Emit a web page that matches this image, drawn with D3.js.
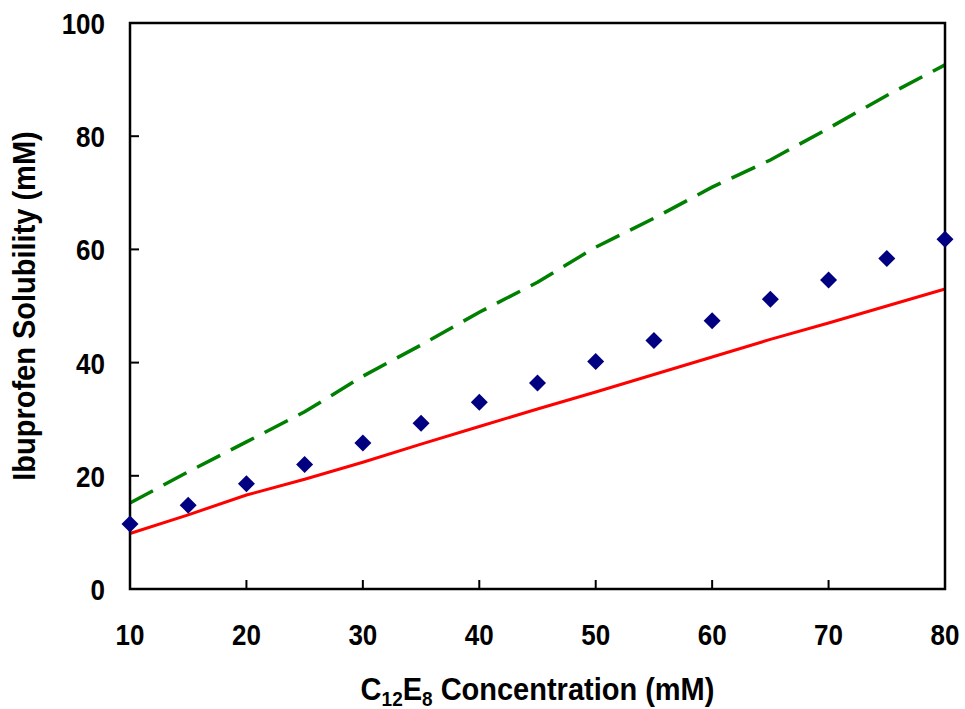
<!DOCTYPE html>
<html>
<head>
<meta charset="utf-8">
<script src="https://cdn.jsdelivr.net/npm/d3@7"></script>
<style>
  body { margin: 0; background: #fff; }
  svg text { font-family: "Liberation Sans", Arial, sans-serif; font-weight: bold; fill: #000; }
</style>
</head>
<body>
<svg id="chart" width="965" height="709"></svg>
<script>
// concentration of C12E8 (mM)
const conc = [10, 15, 20, 25, 30, 35, 40, 45, 50, 55, 60, 65, 70, 75, 80];
// measured ibuprofen solubility (diamonds)
const measured = [11.5, 14.8, 18.6, 22.0, 25.8, 29.3, 33.0, 36.4, 40.2, 43.9, 47.4, 51.2, 54.6, 58.4, 61.8];
// model lines
const modelRed = [9.8, 13.1, 16.6, 19.4, 22.4, 25.6, 28.7, 31.8, 34.8, 37.9, 41.0, 44.1, 47.0, 50.0, 53.0];
const modelGreen = [15.2, 20.7, 26.0, 31.3, 37.6, 43.1, 48.9, 54.2, 60.4, 65.5, 71.0, 75.8, 81.4, 87.2, 92.6];

const xTicks = [10, 20, 30, 40, 50, 60, 70, 80];
const yTicks = [0, 20, 40, 60, 80, 100];

const svg = d3.select("#chart");
const m = { top: 23, right: 20, bottom: 120, left: 130 };
const W = 965, H = 709;
const w = W - m.left - m.right, h = H - m.top - m.bottom;

const g = svg.append("g").attr("transform", `translate(${m.left},${m.top})`);

const x = d3.scaleLinear().domain([10, 80]).range([0, w]);
const y = d3.scaleLinear().domain([0, 100]).range([h, 0]);

// lines
const line = d3.line().x((d, i) => x(conc[i])).y(d => y(d));

g.append("path").datum(modelGreen)
    .attr("d", line)
    .attr("fill", "none")
    .attr("stroke", "#008000")
    .attr("stroke-width", 3.5)
    .attr("stroke-dasharray", "26,12");

g.append("path").datum(modelRed)
    .attr("d", line)
    .attr("fill", "none")
    .attr("stroke", "#ff0000")
    .attr("stroke-width", 3);

// frame
g.append("rect")
    .attr("x", 0).attr("y", 0).attr("width", w).attr("height", h)
    .attr("fill", "none").attr("stroke", "#000").attr("stroke-width", 2.5);

// ticks (inward)
const tl = 9;
g.append("g").selectAll("line").data(xTicks.slice(1, -1)).join("line")
    .attr("x1", d => x(d)).attr("x2", d => x(d))
    .attr("y1", h).attr("y2", h - tl)
    .attr("stroke", "#000").attr("stroke-width", 2);

g.append("g").selectAll("line").data(yTicks.slice(1, -1)).join("line")
    .attr("x1", 0).attr("x2", tl)
    .attr("y1", d => y(d)).attr("y2", d => y(d))
    .attr("stroke", "#000").attr("stroke-width", 2);

// diamonds
const r = 8.5;
g.append("g").selectAll("path").data(measured).join("path")
    .attr("d", (d, i) => {
        const cx = x(conc[i]), cy = y(d);
        return `M${cx},${cy - r}L${cx + r},${cy}L${cx},${cy + r}L${cx - r},${cy}Z`;
    })
    .attr("fill", "#000080");

// tick labels (slightly stretched vertically like the original)
g.append("g").selectAll("text").data(xTicks).join("text")
    .attr("transform", d => `translate(${x(d)},${h + 56}) scale(1,1.17)`)
    .attr("text-anchor", "middle")
    .attr("font-size", 26)
    .text(d => d);

g.append("g").selectAll("text").data(yTicks).join("text")
    .attr("transform", d => `translate(-25,${y(d) + 11}) scale(1,1.17)`)
    .attr("text-anchor", "end")
    .attr("font-size", 26)
    .text(d => d);

// axis titles
const xt = svg.append("text")
    .attr("transform", `translate(${m.left + w / 2},700) scale(1,1.1)`)
    .attr("text-anchor", "middle")
    .attr("font-size", 29);
xt.append("tspan").text("C");
xt.append("tspan").attr("font-size", 19).attr("dy", 5).text("12");
xt.append("tspan").attr("dy", -5).text("E");
xt.append("tspan").attr("font-size", 19).attr("dy", 5).text("8");
xt.append("tspan").attr("dy", -5).text(" Concentration (mM)");

svg.append("text")
    .attr("transform", `translate(35,${m.top + h / 2}) rotate(-90) scale(1,1.1)`)
    .attr("text-anchor", "middle")
    .attr("font-size", 29)
    .text("Ibuprofen Solubility (mM)");
</script>
</body>
</html>
